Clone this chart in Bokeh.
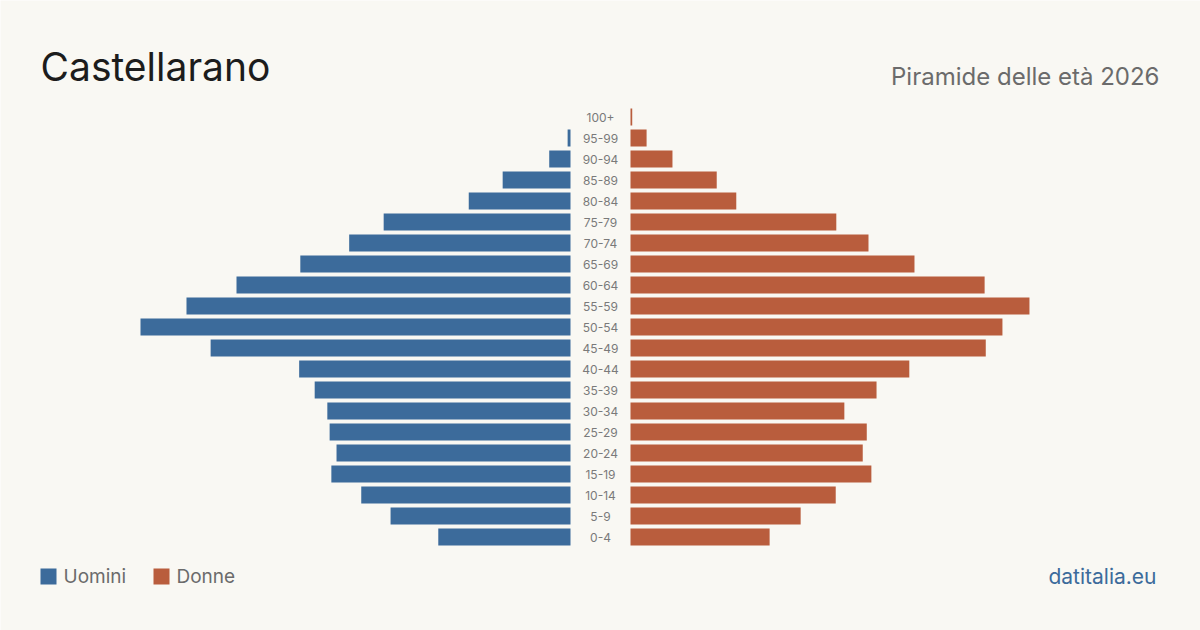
from bokeh.plotting import figure
from bokeh.models import Range1d, ColumnDataSource, Label
from bokeh.embed import file_html
from bokeh.resources import INLINE
from bokeh.core.properties import value

# ---- data (top row first) ----
age_groups = ["100+", "95-99", "90-94", "85-89", "80-84", "75-79", "70-74", "65-69",
              "60-64", "55-59", "50-54", "45-49", "40-44", "35-39", "30-34", "25-29",
              "20-24", "15-19", "10-14", "5-9", "0-4"]
uomini = [0, 5, 37, 118, 177, 325, 385, 470, 581, 668, 748, 626, 472, 445, 423, 419,
          407, 416, 364, 313, 230]
donne = [3, 28, 73, 150, 184, 358, 414, 494, 616, 694, 647, 618, 485, 428, 372, 411,
         404, 419, 357, 296, 242]

title_text = "Castellarano"
subtitle_text = "Piramide delle età 2026"
legend_labels = ["Uomini", "Donne"]
source_text = "datitalia.eu"

# ---- style ----
BG = "#f9f8f3"
BLUE = "#3c6b9b"
RUST = "#b95d3d"
FONT = "Inter"

W, H = 1200, 630
p = figure(width=W, height=H, x_range=Range1d(0, W), y_range=Range1d(H, 0),
           output_backend="svg", toolbar_location=None, min_border=0)
p.axis.visible = False
p.grid.visible = False
p.outline_line_color = None
p.background_fill_color = BG
p.border_fill_color = BG

# scale: largest value spans 430 px
maxv = max(max(uomini), max(donne))
k = 430.0 / maxv
male_edge, female_edge, center = 570, 630, 600
row0, step, bar_h = 116.5, 21, 17

ys = [row0 + i * step for i in range(len(age_groups))]
src = ColumnDataSource(dict(
    y=ys,
    label=age_groups,
    m_left=[male_edge - v * k for v in uomini],
    m_right=[male_edge] * len(uomini),
    f_left=[female_edge] * len(donne),
    f_right=[female_edge + v * k for v in donne],
    cx=[center] * len(age_groups),
))

p.hbar(y="y", left="m_left", right="m_right", height=bar_h, source=src,
       fill_color=BLUE, line_color=None)
p.hbar(y="y", left="f_left", right="f_right", height=bar_h, source=src,
       fill_color=RUST, line_color=None)
p.text(x="cx", y="y", text="label", source=src, text_align="center",
       text_baseline="middle", text_font=value(FONT), text_font_size="12px",
       text_color="#7a7a7a")

# title & subtitle
p.add_layout(Label(x=40, y=66, text=title_text, text_font=FONT,
                   text_font_size="39px", text_color="#1c1c1c",
                   text_align="left", text_baseline="middle"))
p.add_layout(Label(x=1159, y=76, text=subtitle_text, text_font=FONT,
                   text_font_size="24px", text_color="#6b6b6b",
                   text_align="right", text_baseline="middle"))

# legend
legend_colors = [BLUE, RUST]
legend_x = [40, 153]
p.rect(x=[lx + 8 for lx in legend_x], y=[576, 576], width=16, height=16,
       fill_color=legend_colors, line_color=None)
for lx, lab in zip(legend_x, legend_labels):
    p.add_layout(Label(x=lx + 23, y=576, text=lab, text_font=FONT,
                       text_font_size="19px", text_color="#6b6b6b",
                       text_align="left", text_baseline="middle"))

# source
p.add_layout(Label(x=1156, y=576, text=source_text, text_font=FONT,
                   text_font_size="21px", text_color=BLUE,
                   text_align="right", text_baseline="middle"))

open("out.html", "w").write(file_html(p, INLINE))
